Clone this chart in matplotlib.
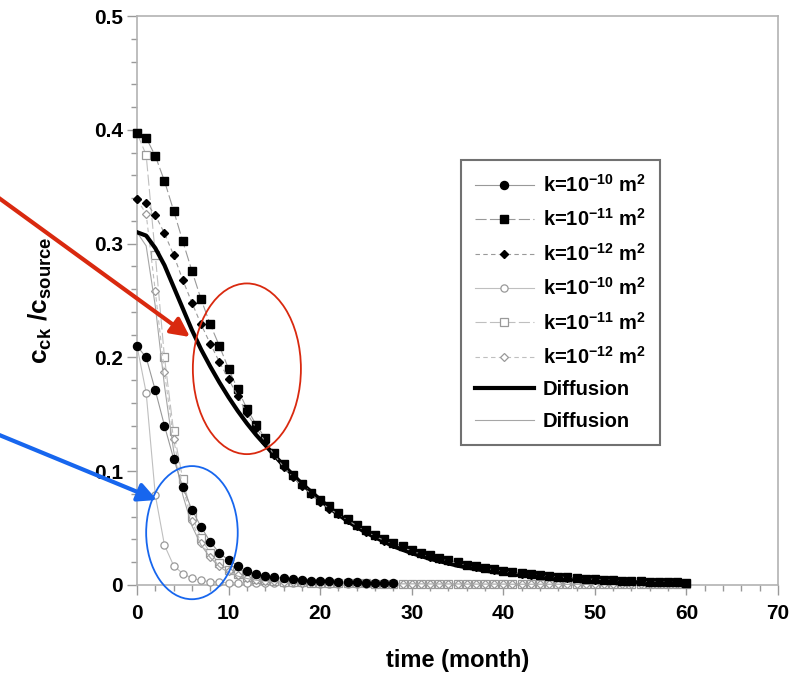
import numpy as np
import matplotlib
matplotlib.use("Agg")
import matplotlib.pyplot as plt
from matplotlib.patches import Ellipse

plt.rcParams['font.family'] = ['Liberation Sans', 'DejaVu Sans']
plt.rcParams['font.weight'] = 'bold'
plt.rcParams['mathtext.fontset'] = 'custom'
plt.rcParams['mathtext.rm'] = 'Liberation Sans:bold'
plt.rcParams['mathtext.it'] = 'Liberation Sans:bold'
plt.rcParams['mathtext.bf'] = 'Liberation Sans:bold'
plt.rcParams['mathtext.default'] = 'rm'

# time in months
months = list(range(61))
months_k10 = list(range(29))

# filled series (first case)
k10_fill = [.210, .200, .171, .140, .111, .086, .066, .051, .038, .028,
            .022, .017, .012, .010, .0080, .0068, .0058, .0050, .0044, .0039,
            .0035, .0031, .0028, .0025, .0023, .0021, .0019, .0017, .0016]
k11_fill = [.397, .393, .377, .355, .329, .302, .276, .251, .229, .210,
            .190, .172, .155, .141, .129, .116, .106, .097, .089, .081,
            .075, .069, .063, .058, .053, .048, .044, .040, .037, .034,
            .031, .028, .026, .024, .022, .020, .018, .0165, .015, .0138,
            .0125, .0114, .0104, .0095, .0087, .0079, .0072, .0066, .0060, .0055,
            .0050, .0046, .0042, .0038, .0035, .0032, .0029, .0027, .0025, .0023,
            .0021]
k12_fill = [.339, .336, .325, .309, .290, .268, .248, .229, .212, .196,
            .181, .166, .151, .138, .126, .114, .104, .095, .087, .080,
            .073, .067, .062, .057, .052, .047, .043, .039, .036, .033,
            .030, .027, .025, .023, .021, .019, .0175, .016, .0145, .0133,
            .0120, .0110, .0100, .0092, .0084, .0076, .0070, .0064, .0058, .0053,
            .0048, .0044, .0040, .0037, .0034, .0031, .0028, .0026, .0024, .0022,
            .0020]
diff_thick = [.310, .307, .296, .281, .262, .243, .224, .207, .192, .178,
              .165, .153, .142, .132, .123, .114, .105, .097, .089, .082,
              .075, .068, .062, .056, .051, .046, .042, .038, .034, .031,
              .028, .0255, .023, .021, .019, .017, .0155, .014, .0127, .0115,
              .0105, .0095, .0086, .0078, .0070, .0063, .0057, .0051, .0046, .0041,
              .0037, .0034, .0031, .0028, .0025, .0023, .0021, .0019, .0017, .0016,
              .0015]

# open series (second case)
k10_open = [.210, .169, .079, .035, .017, .010, .006, .004, .003, .0025,
            .0020, .0019, .0018, .0017, .0016, .0016, .0015, .0015, .0014, .0014,
            .0013, .0013, .0013, .0012, .0012, .0012, .0011, .0011, .0011, .0011,
            .0010, .0010, .0010, .0010, .0010, .0009, .0009, .0009, .0009, .0009,
            .0009, .0008, .0008, .0008, .0008, .0008, .0008, .0008, .0007, .0007,
            .0007, .0007, .0007, .0007, .0007, .0007, .0006, .0006, .0006, .0006,
            .0006]
k11_open = [.397, .378, .290, .200, .135, .093, .061, .041, .028, .019,
            .013, .0095, .0070, .0052, .0042, .0034, .0029, .0025, .0022, .0020,
            .0018, .0017, .0016, .0015, .0014, .0014, .0013, .0013, .0012, .0012,
            .0011, .0011, .0011, .0010, .0010, .0010, .0010, .0009, .0009, .0009,
            .0009, .0009, .0008, .0008, .0008, .0008, .0008, .0008, .0007, .0007,
            .0007, .0007, .0007, .0007, .0007, .0006, .0006, .0006, .0006, .0006,
            .0006]
k12_open = [.339, .326, .258, .187, .128, .086, .056, .037, .025, .017,
            .012, .0085, .0063, .0048, .0039, .0032, .0027, .0023, .0021, .0019,
            .0017, .0016, .0015, .0015, .0014, .0013, .0013, .0012, .0012, .0011,
            .0011, .0011, .0010, .0010, .0010, .0010, .0009, .0009, .0009, .0009,
            .0008, .0008, .0008, .0008, .0008, .0008, .0007, .0007, .0007, .0007,
            .0007, .0007, .0007, .0006, .0006, .0006, .0006, .0006, .0006, .0006,
            .0006]
diff_thin = [.310, .298, .245, .175, .118, .079, .052, .035, .024, .016,
             .011, .0078, .0057, .0043, .0034, .0028, .0024, .0021, .0019, .0017,
             .0016, .0015, .0014, .0013, .0013, .0012, .0012, .0011, .0011, .0010,
             .0010, .0010, .0009, .0009, .0009, .0009, .0008, .0008, .0008, .0008,
             .0008, .0007, .0007, .0007, .0007, .0007, .0007, .0006, .0006, .0006,
             .0006, .0006, .0006, .0006, .0006, .0005, .0005, .0005, .0005, .0005,
             .0005]

labels = ['k=10$^{-10}$ m$^{2}$', 'k=10$^{-11}$ m$^{2}$', 'k=10$^{-12}$ m$^{2}$']

fig = plt.figure(figsize=(7.96, 6.82), dpi=100)
ax = fig.add_axes([137 / 796, 1 - 585 / 682, 641 / 796, 569 / 682])

line_dark = '0.6'
line_light = '0.75'
open_edge = '0.6'

ax.plot(months_k10, k10_fill, color=line_dark, lw=0.8, ls='-', marker='o', ms=5.8,
        mfc='black', mec='black', label=labels[0], clip_on=False, zorder=4)
ax.plot(months, k11_fill, color=line_dark, lw=0.8, ls=(0, (10, 3)), marker='s', ms=6,
        mfc='black', mec='black', label=labels[1], clip_on=False, zorder=4)
ax.plot(months, k12_fill, color=line_dark, lw=0.8, ls=(0, (4, 3)), marker='D', ms=4.5,
        mfc='black', mec='black', label=labels[2], clip_on=False, zorder=4)
ax.plot(months, k10_open, color=line_light, lw=0.8, ls='-', marker='o', ms=5.2,
        mfc='white', mec=open_edge, mew=0.9, label=labels[0], clip_on=False, zorder=3)
ax.plot(months, k11_open, color=line_light, lw=0.8, ls=(0, (10, 3)), marker='s', ms=5.2,
        mfc='white', mec=open_edge, mew=0.9, label=labels[1], clip_on=False, zorder=3)
ax.plot(months, k12_open, color=line_light, lw=0.8, ls=(0, (4, 3)), marker='D', ms=4.5,
        mfc='white', mec=open_edge, mew=0.9, label=labels[2], clip_on=False, zorder=3)
ax.plot(months, diff_thick, color='black', lw=3, label='Diffusion', zorder=3.5)
ax.plot(months, diff_thin, color='0.65', lw=0.8, label='Diffusion', zorder=3)

ax.set_xlim(0, 70)
ax.set_ylim(0, 0.5)
ax.set_xticks(np.arange(0, 71, 10))
ax.set_xticks(np.arange(0, 71, 2), minor=True)
ax.set_yticks(np.arange(0, 0.51, 0.1))
ax.set_yticks(np.arange(0, 0.51, 0.02), minor=True)
ax.set_yticklabels(['0', '0.1', '0.2', '0.3', '0.4', '0.5'])
ax.tick_params(axis='both', which='major', direction='out', length=7, width=1,
               color='0.6', labelsize=15, pad=7)
ax.tick_params(axis='both', which='minor', direction='out', length=4, width=1, color='0.6')
ax.tick_params(axis='y', which='major', pad=3)
for lab in ax.get_xticklabels() + ax.get_yticklabels():
    lab.set_fontweight('bold')
for sp in ax.spines.values():
    sp.set_color('0.7')
    sp.set_linewidth(1.2)

ax.set_xlabel('time (month)', fontsize=17, fontweight='bold')
ax.xaxis.set_label_coords(0.5, -0.113)
ax.set_ylabel('c$_{ck}$ /c$_{source}$', fontsize=19, fontweight='bold')
ax.yaxis.set_label_coords(-0.13, 0.5)

leg = ax.legend(loc='upper left', bbox_to_anchor=(0.49, 0.765),
                prop={'weight': 'bold', 'size': 14.5}, frameon=True, fancybox=False,
                handlelength=2.9, labelspacing=0.62, borderpad=0.7, handletextpad=0.45,
                markerfirst=True)
leg.get_frame().set_edgecolor('0.3')
leg.get_frame().set_linewidth(1.5)
leg.set_zorder(6)

# highlight ellipses
red = '#d9290f'
blue = '#1766ee'
ax.add_patch(Ellipse((12.0, 0.19), 11.8, 0.15, fill=False, ec=red, lw=1.3,
                     clip_on=False, zorder=5))
ax.add_patch(Ellipse((6.0, 0.046), 10.0, 0.117, fill=False, ec=blue, lw=1.3,
                     clip_on=False, zorder=5))

# arrows from the left edge
ax.annotate('', xy=(190 / 796, 1 - 337 / 682), xycoords='figure fraction',
            xytext=(-0.01, 1 - 193 / 682), textcoords='figure fraction',
            arrowprops=dict(arrowstyle='-|>', color=red, lw=3, mutation_scale=28,
                            shrinkA=0, shrinkB=0), zorder=6)
ax.annotate('', xy=(157 / 796, 1 - 500 / 682), xycoords='figure fraction',
            xytext=(-0.01, 1 - 432 / 682), textcoords='figure fraction',
            arrowprops=dict(arrowstyle='-|>', color=blue, lw=3, mutation_scale=28,
                            shrinkA=0, shrinkB=0), zorder=6)

fig.savefig('out.png', dpi=100)
